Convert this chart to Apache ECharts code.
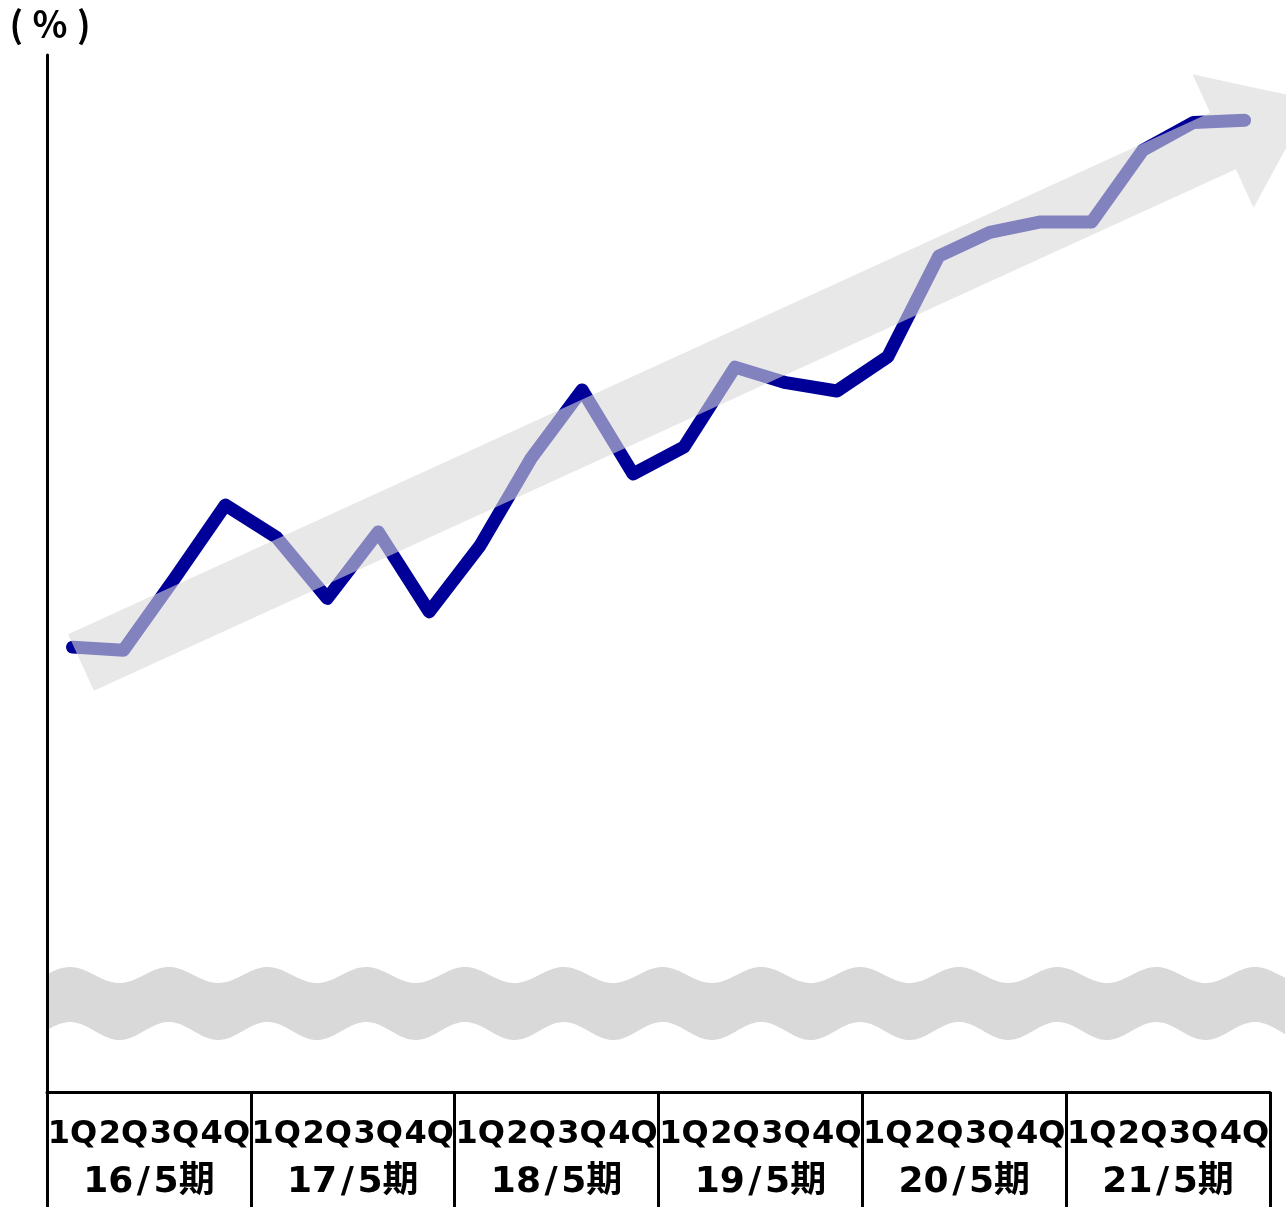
<!DOCTYPE html>
<html>
<head>
<meta charset="utf-8">
<script src="https://cdn.jsdelivr.net/npm/echarts@6/dist/echarts.min.js"></script>
<style>
html,body{margin:0;padding:0;background:#fff;}
#chart{width:1286px;height:1207px;}
</style>
</head>
<body>
<div id="chart"></div>
<script>
// ---- data ----
const quarters = ['1Q','2Q','3Q','4Q'];
const years = ['16\u200A/\u200A5期','17\u200A/\u200A5期','18\u200A/\u200A5期','19\u200A/\u200A5期','20\u200A/\u200A5期','21\u200A/\u200A5期'];
const categories = [];
years.forEach(function(){ quarters.forEach(function(q){ categories.push(q); }); });
const values = [42.9, 42.6, 49.5, 56.6, 53.5, 47.6, 54.0, 46.3,
                52.7, 61.1, 67.7, 59.6, 62.2, 69.9, 68.4, 67.6,
                70.9, 80.6, 82.9, 83.9, 83.9, 90.8, 93.5, 93.7];
const yMin = 0, yMax = 100;
const unitLabel = '(\u2005％\u2005)';

// ---- decorations (trend arrow and axis-break band) ----
function arrowPoints(start, base, shaftHalf, headHalf, headLen){
  const dx = base[0]-start[0], dy = base[1]-start[1];
  const L = Math.sqrt(dx*dx+dy*dy);
  const u = [dx/L, dy/L], n = [-u[1], u[0]];
  const p = function(c, k){ return [c[0]+n[0]*k, c[1]+n[1]*k]; };
  const tip = [base[0]+u[0]*headLen, base[1]+u[1]*headLen];
  return [p(start,-shaftHalf), p(base,-shaftHalf), p(base,-headHalf), tip,
          p(base,headHalf), p(base,shaftHalf), p(start,shaftHalf)];
}
function wavePoints(x0, x1, topBase, topAmp, botBase, botAmp, crestX, period){
  const top = [], bot = [];
  for (let x = x0; x <= x1; x += 2){
    const t = 2*Math.PI*(x-crestX)/period;
    top.push([x, topBase - topAmp*Math.cos(t)]);
    bot.push([x, botBase - botAmp*Math.cos(t)]);
  }
  return top.concat(bot.reverse());
}

const chart = echarts.init(document.getElementById('chart'), null, {renderer:'canvas'});
const option = {
  backgroundColor: '#ffffff',
  animation: false,
  grid: {left: 47, right: 16, top: 55, bottom: 115, containLabel: false, outerBoundsMode: 'none'},
  xAxis: [{
    type: 'category',
    data: categories,
    boundaryGap: true,
    position: 'bottom',
    axisLine: {show: true, lineStyle: {color: '#000', width: 3}},
    axisTick: {show: true, interval: function(i){ return i % 4 === 0; }, length: 115,
               lineStyle: {color: '#000', width: 3}},
    axisLabel: {interval: 0, margin: 27, fontSize: 32, fontWeight: 'bold', color: '#000',
                fontFamily: '"DejaVu Sans"'},
    splitLine: {show: false}
  }, {
    type: 'category',
    data: years,
    boundaryGap: true,
    position: 'bottom',
    axisLine: {show: false},
    axisTick: {show: false},
    axisLabel: {interval: 0, margin: 73, fontSize: 36, fontWeight: 'bold', color: '#000',
                fontFamily: '"DejaVu Sans", "Noto Sans CJK JP"'},
    splitLine: {show: false}
  }],
  yAxis: {
    type: 'value',
    min: yMin, max: yMax,
    name: unitLabel,
    nameLocation: 'end',
    nameGap: 31,
    nameTextStyle: {fontSize: 36, fontWeight: 'bold', color: '#000',
                    fontFamily: '"Noto Sans CJK JP"', align: 'center', verticalAlign: 'middle',
                    padding: [0, 0, 0, 6]},
    axisLine: {show: true, lineStyle: {color: '#000', width: 3}},
    axisTick: {show: false},
    axisLabel: {show: false},
    splitLine: {show: false}
  },
  graphic: [{
    type: 'polygon',
    z: 1,
    shape: {points: wavePoints(49, 1286, 975, 8, 1031, 9, 70, 98.75)},
    style: {fill: '#d9d9d9'}
  }, {
    type: 'polygon',
    z: 100,
    shape: {points: arrowPoints([81, 662.5], [1223, 141], 31, 73.5, 98)},
    style: {fill: 'rgba(216,216,216,0.6)'}
  }],
  series: [{
    type: 'line',
    xAxisIndex: 0,
    data: values,
    showSymbol: false,
    symbol: 'none',
    z: 5,
    lineStyle: {color: '#000099', width: 13, cap: 'round', join: 'round'}
  }]
};
chart.setOption(option);
</script>
</body>
</html>
